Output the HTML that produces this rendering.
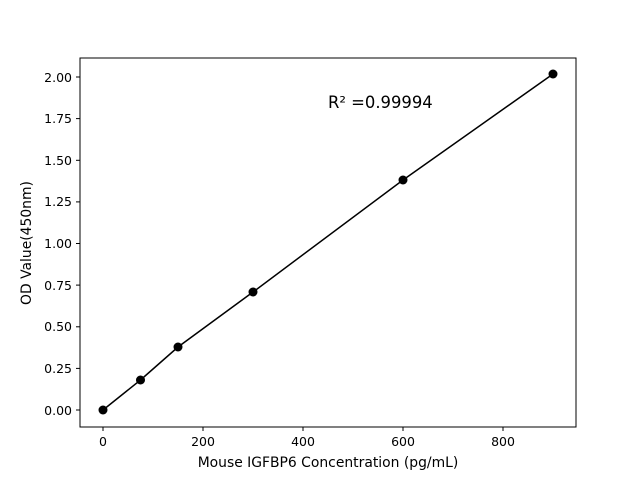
<!DOCTYPE html>
<html><head><style>body{margin:0;background:#fff}</style></head><body>
<svg width="640" height="480" xmlns="http://www.w3.org/2000/svg" font-family="DejaVu Sans, Liberation Sans, sans-serif" font-size="13">
<rect x="80" y="58" width="496" height="369" fill="none" stroke="#000" stroke-width="1"/>
<g stroke="#000">
<line x1="103" y1="427" x2="103" y2="431"/><line x1="203" y1="427" x2="203" y2="431"/><line x1="303" y1="427" x2="303" y2="431"/><line x1="403" y1="427" x2="403" y2="431"/><line x1="503" y1="427" x2="503" y2="431"/>
<line x1="76" y1="410" x2="80" y2="410"/><line x1="76" y1="368.4" x2="80" y2="368.4"/><line x1="76" y1="326.8" x2="80" y2="326.8"/><line x1="76" y1="285.1" x2="80" y2="285.1"/><line x1="76" y1="243.5" x2="80" y2="243.5"/><line x1="76" y1="201.9" x2="80" y2="201.9"/><line x1="76" y1="160.3" x2="80" y2="160.3"/><line x1="76" y1="118.6" x2="80" y2="118.6"/><line x1="76" y1="77" x2="80" y2="77"/>
</g>
<g text-anchor="middle" font-size="12.5">
<text x="103" y="446">0</text><text x="203" y="446">200</text><text x="303" y="446">400</text><text x="403" y="446">600</text><text x="503" y="446">800</text>
</g>
<g text-anchor="end" font-size="12.5">
<text x="72" y="415">0.00</text><text x="72" y="373">0.25</text><text x="72" y="331">0.50</text><text x="72" y="290">0.75</text><text x="72" y="248">1.00</text><text x="72" y="206">1.25</text><text x="72" y="165">1.50</text><text x="72" y="123">1.75</text><text x="72" y="82">2.00</text>
</g>
<text x="328" y="467" text-anchor="middle" font-size="13.9">Mouse IGFBP6 Concentration (pg/mL)</text>
<text transform="translate(31,243) rotate(-90)" text-anchor="middle" font-size="13.9">OD Value(450nm)</text>
<text x="328" y="108" font-size="16.4">R² =0.99994</text>
<polyline points="103,410 140.5,380 178,347 253,292 403,180 553,74" fill="none" stroke="#000" stroke-width="1.5"/>
<g fill="#000"><circle cx="103" cy="410" r="4.5"/><circle cx="140.5" cy="380" r="4.5"/><circle cx="178" cy="347" r="4.5"/><circle cx="253" cy="292" r="4.5"/><circle cx="403" cy="180" r="4.5"/><circle cx="553" cy="74" r="4.5"/></g>
</svg>
</body></html>
